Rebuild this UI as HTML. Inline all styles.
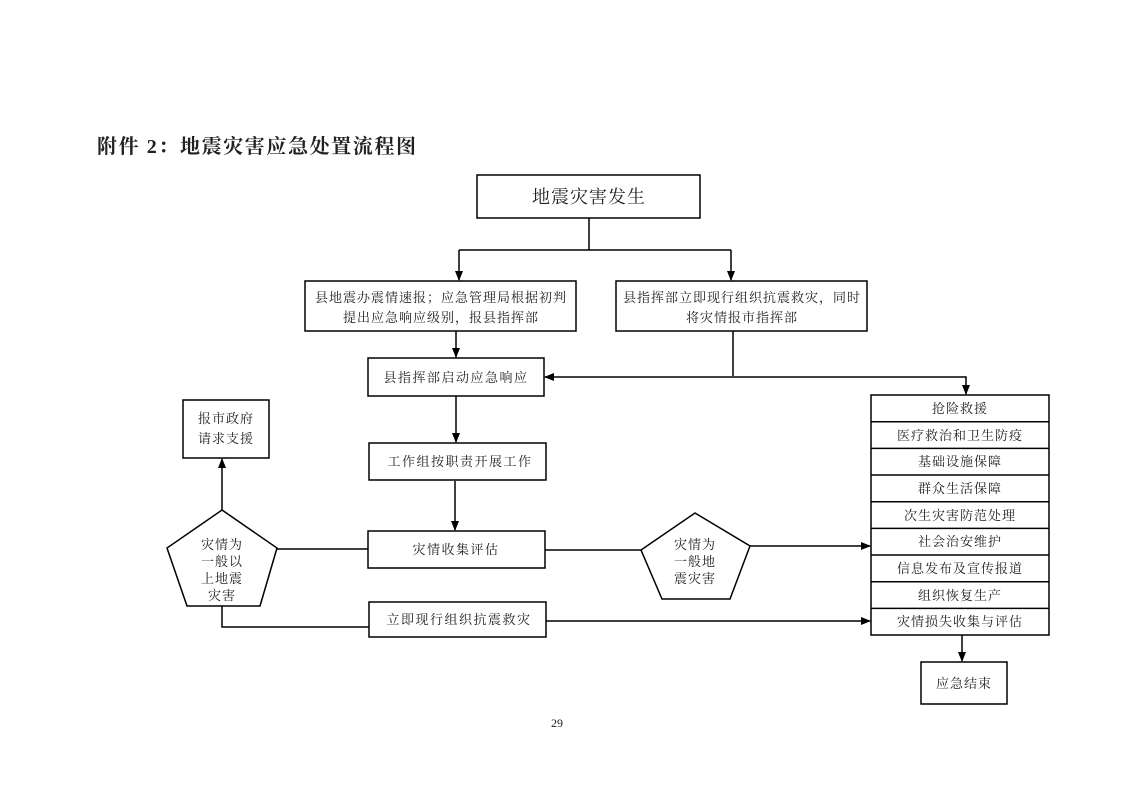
<!DOCTYPE html>
<html><head><meta charset="utf-8"><style>
body{margin:0;background:#fff;}
svg text{font-family:"Liberation Serif","Noto Serif CJK SC","Noto Sans CJK SC",serif;fill:#222;}
</style></head><body>
<svg width="1122" height="793" viewBox="0 0 1122 793" xmlns="http://www.w3.org/2000/svg">
<defs><marker id="a" markerWidth="10" markerHeight="10" refX="9" refY="5" orient="auto" markerUnits="userSpaceOnUse"><path d="M0,1 L10,5 L0,9 z" fill="#000"/></marker></defs>
<g fill="none" stroke="#000" stroke-width="1.5">
<rect x="477" y="175" width="223" height="43"/>
<rect x="305" y="281" width="271" height="50"/>
<rect x="616" y="281" width="251" height="50"/>
<rect x="368" y="358" width="176" height="38"/>
<rect x="369" y="443" width="177" height="37"/>
<rect x="368" y="531" width="177" height="37"/>
<rect x="369" y="602" width="177" height="35"/>
<rect x="183" y="400" width="86" height="58"/>
<rect x="921" y="662" width="86" height="42"/>
<rect x="871" y="395" width="178" height="240"/>
<path d="M871,421.7H1049M871,448.4H1049M871,475H1049M871,501.7H1049M871,528.4H1049M871,555H1049M871,581.7H1049M871,608.4H1049"/>
<polygon points="222,510 277,548 260,606 187,606 167,548"/>
<polygon points="695,513 750,546 730,599 662,599 641,550"/>
<path d="M589,218V250M459,250H731"/>
<path d="M459,250V280" marker-end="url(#a)"/>
<path d="M731,250V280" marker-end="url(#a)"/>
<path d="M456,331V357" marker-end="url(#a)"/>
<path d="M733,331V376"/>
<path d="M733,377H545" marker-end="url(#a)"/>
<path d="M733,377H966V394" marker-end="url(#a)"/>
<path d="M456,396V442" marker-end="url(#a)"/>
<path d="M455,481V530" marker-end="url(#a)"/>
<path d="M368,549H277M545,550H641"/>
<path d="M222,510V459" marker-end="url(#a)"/>
<path d="M750,546H870" marker-end="url(#a)"/>
<path d="M222,606V627H369"/>
<path d="M546,621H870" marker-end="url(#a)"/>
<path d="M962,635V661" marker-end="url(#a)"/>
</g>
<text x="97" y="153" font-size="20" font-weight="bold" letter-spacing="1.6" style="font-family:'Liberation Serif','Noto Serif CJK SC',serif">附件 2：地震灾害应急处置流程图</text>
<g font-size="13" text-anchor="middle" letter-spacing="1">
<text x="589" y="203" font-size="18">地震灾害发生</text>
<text x="441" y="302">县地震办震情速报；应急管理局根据初判</text>
<text x="441" y="322">提出应急响应级别，报县指挥部</text>
<text x="742" y="302">县指挥部立即现行组织抗震救灾，同时</text>
<text x="742" y="322">将灾情报市指挥部</text>
<text x="456" y="382" letter-spacing="1.5">县指挥部启动应急响应</text>
<text x="460" y="466" letter-spacing="1.5">工作组按职责开展工作</text>
<text x="456" y="554" letter-spacing="1.5">灾情收集评估</text>
<text x="459" y="624" letter-spacing="1.5">立即现行组织抗震救灾</text>
<text x="226" y="423">报市政府</text>
<text x="226" y="443">请求支援</text>
<text x="222" y="549">灾情为</text>
<text x="222" y="566">一般以</text>
<text x="222" y="583">上地震</text>
<text x="222" y="600">灾害</text>
<text x="695" y="549">灾情为</text>
<text x="695" y="566">一般地</text>
<text x="695" y="583">震灾害</text>
<text x="960" y="413">抢险救援</text>
<text x="960" y="440">医疗救治和卫生防疫</text>
<text x="960" y="466">基础设施保障</text>
<text x="960" y="493">群众生活保障</text>
<text x="960" y="520">次生灾害防范处理</text>
<text x="960" y="546">社会治安维护</text>
<text x="960" y="573">信息发布及宣传报道</text>
<text x="960" y="600">组织恢复生产</text>
<text x="960" y="626">灾情损失收集与评估</text>
<text x="964" y="688">应急结束</text>
<text x="557" y="727" font-size="12" letter-spacing="0">29</text>
</g>
</svg>
</body></html>
